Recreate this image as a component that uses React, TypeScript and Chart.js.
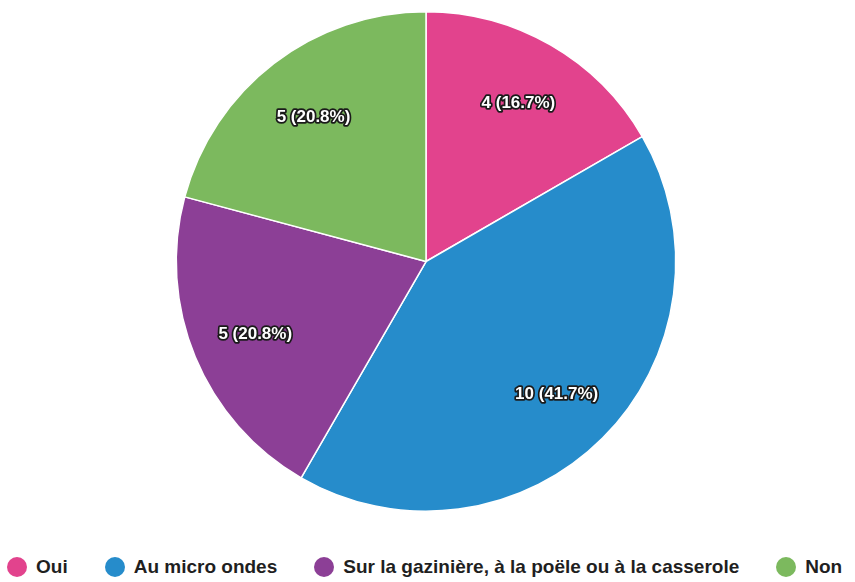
import React, { useEffect, useRef } from "react";
import { Chart, registerables } from "chart.js";

Chart.register(...registerables);

const labels = ["Oui", "Au micro ondes", "Sur la gazinière, à la poële ou à la casserole", "Non"];
const values = [4, 10, 5, 5];
const colors = ["#E2438D", "#268CCB", "#8C3F96", "#7CB95E"];

const sliceLabelPlugin = {
  id: "sliceLabels",
  afterDatasetsDraw(chart: any) {
    const ctx = chart.ctx;
    const meta = chart.getDatasetMeta(0);
    const data = chart.data.datasets[0].data as number[];
    const total = data.reduce((a, b) => a + b, 0);
    ctx.save();
    ctx.font = "bold 17px 'Liberation Sans', Arial, sans-serif";
    ctx.textAlign = "center";
    ctx.textBaseline = "middle";
    ctx.lineJoin = "round";
    meta.data.forEach((arc: any, i: number) => {
      const p = arc.getProps(["x", "y", "startAngle", "endAngle", "outerRadius"], true);
      const mid = (p.startAngle + p.endAngle) / 2;
      const r = p.outerRadius * 0.74;
      const x = p.x + Math.cos(mid) * r;
      const y = p.y + Math.sin(mid) * r + 2;
      const text = `${data[i]} (${((data[i] / total) * 100).toFixed(1)}%)`;
      ctx.lineWidth = 3.5;
      ctx.strokeStyle = "#1a1a1a";
      ctx.strokeText(text, x, y);
      ctx.fillStyle = "#ffffff";
      ctx.fillText(text, x, y);
    });
    ctx.restore();
  },
};

export default function App() {
  const ref = useRef<HTMLCanvasElement>(null);
  useEffect(() => {
    if (!ref.current) return;
    const chart = new Chart(ref.current, {
      type: "pie",
      data: {
        labels,
        datasets: [
          {
            data: values,
            backgroundColor: colors,
            borderColor: "#ffffff",
            borderWidth: 1.5,
          },
        ],
      },
      options: {
        animation: false,
        responsive: false,
        layout: { padding: { top: 11, bottom: 18, left: 0, right: 3 } },
        plugins: {
          legend: { display: false },
          tooltip: { enabled: false },
        },
      },
      plugins: [sliceLabelPlugin],
    });
    return () => chart.destroy();
  }, []);

  return (
    <div style={{ position: "fixed", left: 0, top: 0, width: 855, height: 582, background: "#fff" }}>
      <canvas ref={ref} width={855} height={530} style={{ display: "block" }} />
      <div
        style={{
          position: "absolute",
          left: 7,
          top: 555,
          display: "flex",
          alignItems: "center",
          gap: 37,
          fontFamily: "'Liberation Sans', Arial, sans-serif",
          fontWeight: "bold",
          fontSize: 19,
          color: "#1f1f1f",
          whiteSpace: "nowrap",
        }}
      >
        {labels.map((l, i) => (
          <div key={l} style={{ display: "flex", alignItems: "center" }}>
            <span
              style={{
                display: "inline-block",
                width: 20,
                height: 20,
                borderRadius: "50%",
                background: colors[i],
                marginRight: 9,
              }}
            />
            <span style={{ lineHeight: "24px" }}>{l}</span>
          </div>
        ))}
      </div>
    </div>
  );
}
